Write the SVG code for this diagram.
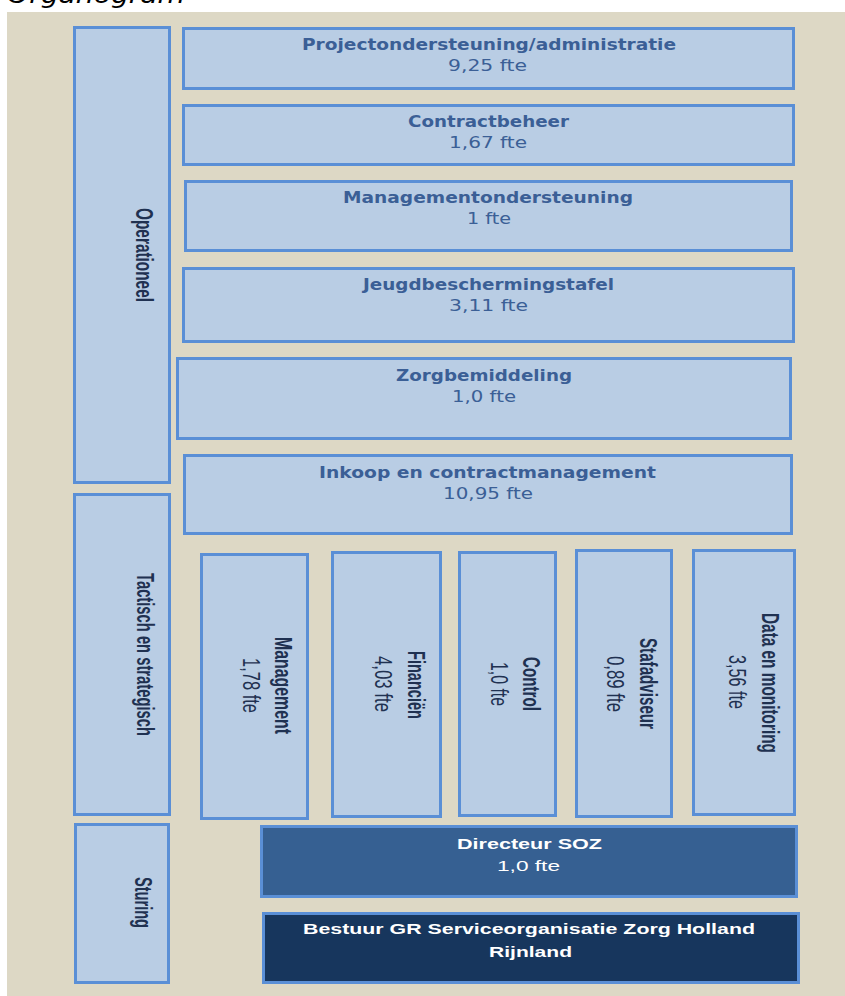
<svg xmlns="http://www.w3.org/2000/svg" width="845" height="996" viewBox="0 0 845 996">
<style>
.box{fill:#b9cde4;stroke:#5a8fd6;stroke-width:3}
.dir{fill:#366092;stroke:#5a8fd6;stroke-width:3}
.bes{fill:#17365d;stroke:#5a8fd6;stroke-width:3}
.ht{font-family:"DejaVu Sans",Verdana,sans-serif;font-weight:bold;font-size:16px;fill:#3b5f96;text-anchor:middle}
.hv{font-family:"DejaVu Sans",Verdana,sans-serif;font-size:15.5px;fill:#3b5f96;text-anchor:middle}
.vt{font-family:"Liberation Sans",Arial,sans-serif;font-weight:bold;font-size:23px;fill:#1f3151;text-anchor:middle}
.vv{font-family:"Liberation Sans",Arial,sans-serif;font-size:23px;fill:#1f3151;text-anchor:middle}
.wt{font-family:"Liberation Sans",Arial,sans-serif;font-weight:bold;font-size:15.5px;fill:#ffffff;text-anchor:middle}
.wv{font-family:"Liberation Sans",Arial,sans-serif;font-size:15.5px;fill:#ffffff;text-anchor:middle}
</style>
<rect x="0" y="0" width="845" height="996" fill="#ffffff"/>
<text x="7" y="3" font-family="DejaVu Sans, Verdana, sans-serif" font-style="italic" font-size="24" fill="#000000" textLength="178" lengthAdjust="spacingAndGlyphs">Organogram</text>
<rect x="7" y="12" width="838" height="984" fill="#ddd8c5"/>
<g id="connectors"></g>
<g id="operationeel">
<rect class="box" x="74.5" y="27.5" width="95" height="455"/>
<text class="vt" transform="translate(136,255) rotate(90)" x="0" y="0" textLength="94" lengthAdjust="spacingAndGlyphs">Operationeel</text>
</g>
<g id="tactisch">
<rect class="box" x="74.5" y="494.5" width="95" height="320"/>
<text class="vt" transform="translate(137,654.5) rotate(90)" textLength="163" lengthAdjust="spacingAndGlyphs">Tactisch en strategisch</text>
</g>
<g id="sturing">
<rect class="box" x="75.5" y="824.5" width="93" height="158"/>
<text class="vt" transform="translate(135,902.5) rotate(90)" textLength="51" lengthAdjust="spacingAndGlyphs">Sturing</text>
</g>
<g id="projectondersteuning">
<rect class="box" x="183.5" y="28.5" width="610" height="60"/>
<text class="ht" x="489" y="50" textLength="374" lengthAdjust="spacingAndGlyphs">Projectondersteuning/administratie</text>
<text class="hv" x="487.5" y="71" textLength="79" lengthAdjust="spacingAndGlyphs">9,25 fte</text>
</g>
<g id="contractbeheer">
<rect class="box" x="183.5" y="105.5" width="610" height="59"/>
<text class="ht" x="488.5" y="127" textLength="161" lengthAdjust="spacingAndGlyphs">Contractbeheer</text>
<text class="hv" x="488" y="148" textLength="78" lengthAdjust="spacingAndGlyphs">1,67 fte</text>
</g>
<g id="managementondersteuning">
<rect class="box" x="185.5" y="181.5" width="606" height="69"/>
<text class="ht" x="488" y="203" textLength="290" lengthAdjust="spacingAndGlyphs">Managementondersteuning</text>
<text class="hv" x="489" y="224" textLength="44" lengthAdjust="spacingAndGlyphs">1 fte</text>
</g>
<g id="jeugdbeschermingstafel">
<rect class="box" x="183.5" y="268.5" width="610" height="73"/>
<text class="ht" x="488.5" y="290" textLength="251" lengthAdjust="spacingAndGlyphs">Jeugdbeschermingstafel</text>
<text class="hv" x="488.5" y="311" textLength="79" lengthAdjust="spacingAndGlyphs">3,11 fte</text>
</g>
<g id="zorgbemiddeling">
<rect class="box" x="177.5" y="358.5" width="613" height="80"/>
<text class="ht" x="484" y="381" textLength="176" lengthAdjust="spacingAndGlyphs">Zorgbemiddeling</text>
<text class="hv" x="484" y="402" textLength="64" lengthAdjust="spacingAndGlyphs">1,0 fte</text>
</g>
<g id="inkoop">
<rect class="box" x="184.5" y="455.5" width="607" height="78"/>
<text class="ht" x="487.5" y="478" textLength="337" lengthAdjust="spacingAndGlyphs">Inkoop en contractmanagement</text>
<text class="hv" x="488" y="499" textLength="90" lengthAdjust="spacingAndGlyphs">10,95 fte</text>
</g>
<g id="management">
<rect class="box" x="201.5" y="554.5" width="106" height="264"/>
<text class="vt" transform="translate(275,685.5) rotate(90)" textLength="97" lengthAdjust="spacingAndGlyphs">Management</text>
<text class="vv" transform="translate(243,685.5) rotate(90)" textLength="55" lengthAdjust="spacingAndGlyphs">1,78 fte</text>
</g>
<g id="financien">
<rect class="box" x="332.5" y="552.5" width="108" height="264"/>
<text class="vt" transform="translate(408,685) rotate(90)" textLength="68" lengthAdjust="spacingAndGlyphs">Financiën</text>
<text class="vv" transform="translate(375,684) rotate(90)" textLength="56" lengthAdjust="spacingAndGlyphs">4,03 fte</text>
</g>
<g id="control">
<rect class="box" x="459.5" y="552.5" width="96" height="263"/>
<text class="vt" transform="translate(523,684) rotate(90)" textLength="54" lengthAdjust="spacingAndGlyphs">Control</text>
<text class="vv" transform="translate(491,684) rotate(90)" textLength="44" lengthAdjust="spacingAndGlyphs">1,0 fte</text>
</g>
<g id="stafadviseur">
<rect class="box" x="576.5" y="550.5" width="95" height="266"/>
<text class="vt" transform="translate(640,683.5) rotate(90)" textLength="91" lengthAdjust="spacingAndGlyphs">Stafadviseur</text>
<text class="vv" transform="translate(607,684) rotate(90)" textLength="56" lengthAdjust="spacingAndGlyphs">0,89 fte</text>
</g>
<g id="data">
<rect class="box" x="693.5" y="550.5" width="101" height="264"/>
<text class="vt" transform="translate(762,683) rotate(90)" textLength="140" lengthAdjust="spacingAndGlyphs">Data en monitoring</text>
<text class="vv" transform="translate(729,682) rotate(90)" textLength="54" lengthAdjust="spacingAndGlyphs">3,56 fte</text>
</g>
<g id="directeur">
<rect class="dir" x="261.5" y="826.5" width="535" height="70"/>
<text class="wt" x="529.5" y="849" textLength="145" lengthAdjust="spacingAndGlyphs">Directeur SOZ</text>
<text class="wv" x="528.5" y="871" textLength="63" lengthAdjust="spacingAndGlyphs">1,0 fte</text>
</g>
<g id="bestuur">
<rect class="bes" x="263.5" y="913.5" width="535" height="69"/>
<text class="wt" x="529" y="934" textLength="452" lengthAdjust="spacingAndGlyphs">Bestuur GR Serviceorganisatie Zorg Holland</text>
<text class="wt" x="530.5" y="957" textLength="83" lengthAdjust="spacingAndGlyphs">Rijnland</text>
</g>
</svg>
